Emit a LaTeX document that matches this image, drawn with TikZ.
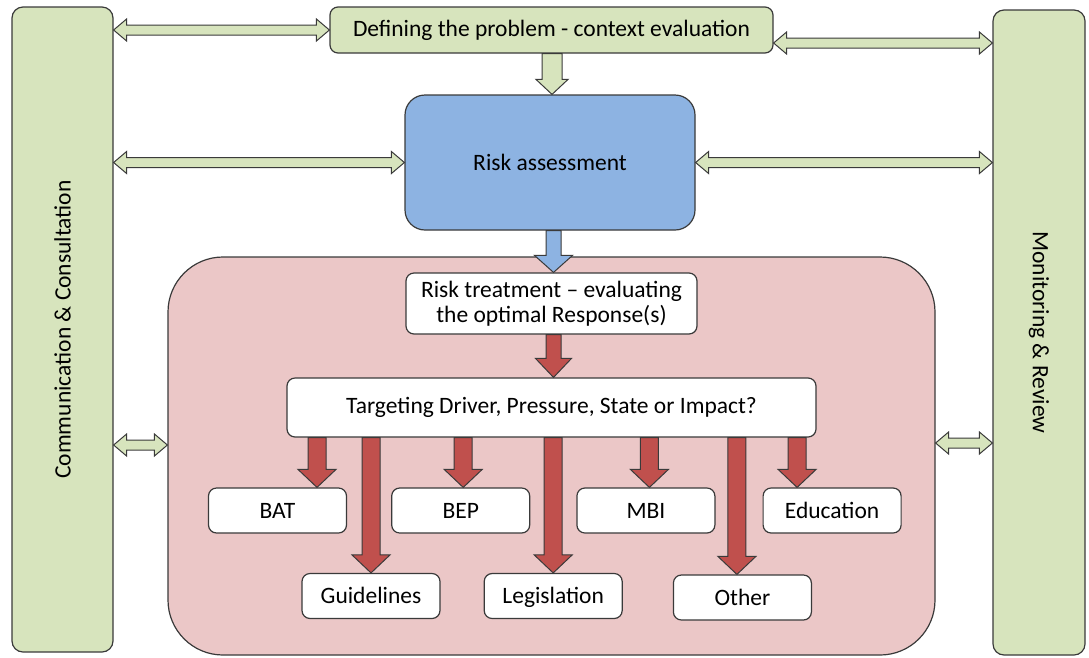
\documentclass[tikz,border=0pt]{standalone}
\usepackage{fontspec}
\setmainfont{Carlito}
\usetikzlibrary{positioning, calc}
\definecolor{panelgreen}{HTML}{D7E4BD}
\definecolor{assessblue}{HTML}{8DB3E2}
\definecolor{treatpink}{HTML}{EBC7C7}
\definecolor{arrowred}{HTML}{C0504D}
\definecolor{edgegray}{HTML}{3A3A3A}
\tikzset{
    panel/.style={rectangle, draw=edgegray, fill=panelgreen, line width=1.2pt,
                  rounded corners=11pt, inner sep=0pt, font=\fontsize{23.5}{27}\selectfont},
    greenbox/.style={rectangle, draw=edgegray, fill=panelgreen, line width=1.2pt,
                     rounded corners=8pt, inner sep=0pt, font=\fontsize{23.5}{27}\selectfont},
    bluebox/.style={rectangle, draw=edgegray, fill=assessblue, line width=1.2pt,
                    rounded corners=20pt, inner sep=0pt, font=\fontsize{23.5}{27}\selectfont},
    pinkarea/.style={rectangle, draw=edgegray, fill=treatpink, line width=1.2pt,
                     rounded corners=55pt, inner sep=0pt},
    whitebox/.style={rectangle, draw=edgegray, fill=white, line width=1.2pt,
                     rounded corners=8pt, inner sep=0pt, align=center,
                     font=\fontsize{23.5}{25}\selectfont},
    option/.style={whitebox, minimum width=138pt, minimum height=45pt,
                   text height=19pt, text depth=4pt},
    greenblock/.style={draw=edgegray, fill=panelgreen, line width=1pt},
    blueblock/.style={draw=edgegray, fill=assessblue, line width=1pt},
    redblock/.style={draw=edgegray, fill=arrowred, line width=1pt},
}
% block arrow pointing down: y of start from #2, x and tip from #3
\newcommand{\vblock}[6][]{%
  \draw[#1] let \p1=(#2), \p2=(#3) in
    (\x2-#4,\y1) -- (\x2-#4,\y2+#6) -- (\x2-#5,\y2+#6) -- (\x2,\y2)
    -- (\x2+#5,\y2+#6) -- (\x2+#4,\y2+#6) -- (\x2+#4,\y1) -- cycle;}
% double block arrow, left to right: x from #2 and #3, y from #3
\newcommand{\hblock}[6][]{%
  \draw[#1] let \p1=(#2), \p2=(#3) in
    (\x1,\y2) -- (\x1+#6,\y2+#5) -- (\x1+#6,\y2+#4) -- (\x2-#6,\y2+#4)
    -- (\x2-#6,\y2+#5) -- (\x2,\y2) -- (\x2-#6,\y2-#5) -- (\x2-#6,\y2-#4)
    -- (\x1+#6,\y2-#4) -- (\x1+#6,\y2-#5) -- cycle;}

\begin{document}
\begin{tikzpicture}[x=1pt, y=-1pt]
    \useasboundingbox (0,0) rectangle (1089,657);

    % -- side panels --
    \node[panel, minimum width=101pt, minimum height=645pt] (comm) at (62.5,329.5)
        {\rotatebox{90}{Communication \& Consultation}};
    \node[panel, minimum width=92pt, minimum height=645pt] (monitor) at (1039,332.5)
        {\rotatebox{-90}{Monitoring \& Review}};

    % -- main column --
    \node[greenbox, minimum width=443pt, minimum height=46pt] (context) at (551.5,30)
        {Defining the problem - context evaluation};
    \node[bluebox, minimum width=290pt, minimum height=135pt] (assess) at (550,162.5)
        {Risk assessment};
    \node[pinkarea, minimum width=767pt, minimum height=398pt] (treatarea) at (551.5,456) {};
    \node[whitebox, minimum width=291pt, minimum height=61pt] (treat) at (551.5,303.5)
        {Risk treatment -- evaluating\\the optimal Response(s)};
    \node[whitebox, minimum width=529pt, minimum height=59pt] (target) at (551.5,407.5)
        {Targeting Driver, Pressure, State or Impact?};

    % -- responses --
    \node[option] (bat) at (277.5,510.5) {BAT};
    \node[option, right=44pt of bat] (bep) {BEP};
    \node[option, right=46pt of bep] (mbi) {MBI};
    \node[option, right=47pt of mbi] (edu) {Education};
    \node[option] (guide) at (371,596) {Guidelines};
    \node[option, right=43pt of guide] (legis) {Legislation};
    \node[option, right=50pt of legis, yshift=-1.5pt] (other) {Other};

    % -- two-way links to the panels --
    \hblock[greenblock]{comm.east}{context.west}{5pt}{11pt}{13pt}
    \hblock[greenblock]{context.east}{$(monitor.west |- context.east)+(0,13)$}{5pt}{11pt}{13pt}
    \hblock[greenblock]{comm.east}{assess.west}{5pt}{11pt}{13pt}
    \hblock[greenblock]{assess.east}{monitor.west |- assess.east}{5pt}{11pt}{13pt}
    \hblock[greenblock]{comm.east}{$(treatarea.west)+(0,-11)$}{5pt}{11pt}{13pt}
    \hblock[greenblock]{treatarea.east}{$(monitor.west |- treatarea.east)+(0,-13)$}{5pt}{11pt}{13pt}

    % -- flow down --
    \vblock[greenblock]{context.south}{[xshift=2pt]assess.north}{10pt}{16pt}{15pt}
    \vblock[blueblock]{assess.south}{[xshift=2pt]treat.north}{7.5pt}{19pt}{17pt}
    \vblock[redblock]{treat.south}{[xshift=2pt]target.north}{7.5pt}{18pt}{19pt}

    \vblock[redblock]{target.south}{[xshift=39.5pt]bat.north}{9pt}{19pt}{18pt}
    \vblock[redblock]{target.south}{guide.north}{9pt}{19pt}{18pt}
    \vblock[redblock]{target.south}{[xshift=2.5pt]bep.north}{9pt}{19pt}{18pt}
    \vblock[redblock]{target.south}{legis.north}{9pt}{19pt}{18pt}
    \vblock[redblock]{target.south}{[xshift=3.5pt]mbi.north}{9pt}{19pt}{18pt}
    \vblock[redblock]{target.south}{[xshift=-5.5pt]other.north}{9pt}{19pt}{18pt}
    \vblock[redblock]{target.south}{[xshift=-35pt]edu.north}{9pt}{19pt}{18pt}

\end{tikzpicture}
\end{document}
